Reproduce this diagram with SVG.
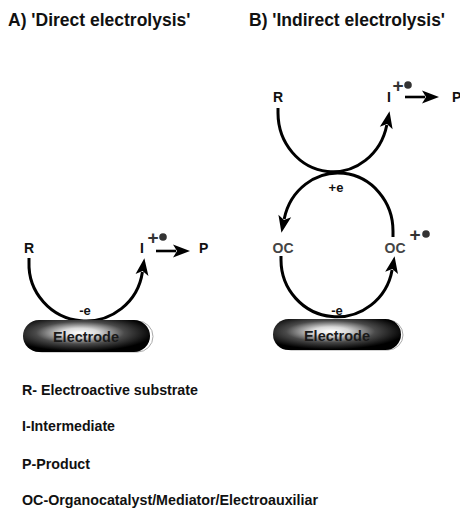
<svg xmlns="http://www.w3.org/2000/svg" width="460" height="509" viewBox="0 0 460 509">
<style>
text{font-family:"Liberation Sans",Arial,sans-serif;font-weight:bold;fill:#111}
.title{font-size:17.5px}
.lbl{font-size:14px}
.oc{font-size:14px;fill:#444}
.e{font-size:13px;text-anchor:middle}
.leg{font-size:15px}
.etx{font-size:14.5px;text-anchor:middle;fill:#1a1a1a}
.plus{font-size:19px;text-anchor:middle;fill:#333}
.arc{fill:none;stroke:#000;stroke-width:3}
.arr{fill:none;stroke:#000;stroke-width:2.6}
</style>
<defs>
<marker id="ah" markerUnits="userSpaceOnUse" markerWidth="24" markerHeight="18" viewBox="-4 -9 24 18" refX="3" refY="0" orient="auto">
<path d="M0,-6.5 L17,0 L0,6.5 L4,0 z" fill="#000"/>
</marker>
<radialGradient id="eg" cx="0.45" cy="0.4" r="0.58">
<stop offset="0" stop-color="#ffffff"/>
<stop offset="0.25" stop-color="#d8d8d8"/>
<stop offset="0.6" stop-color="#4a4a4a"/>
<stop offset="1" stop-color="#000"/>
</radialGradient>
</defs>
<g id="titles">
<text class="title" x="8" y="26">A) 'Direct electrolysis'</text>
<text class="title" x="249" y="26">B) 'Indirect electrolysis'</text>
</g>
<g id="connectors">
<path class="arc" d="M29,258 L29,262 A57,57 0 0 0 142.4,272" marker-end="url(#ah)"/>
<line class="arr" x1="156" y1="251" x2="176" y2="251" marker-end="url(#ah)"/>
<path class="arc" d="M278,108 L278,113 A55,59 0 0 0 386.8,125" marker-end="url(#ah)"/>
<line class="arr" x1="405" y1="97" x2="425" y2="97" marker-end="url(#ah)"/>
<path class="arc" d="M393,237 L393,231 A55,58 0 0 0 284.2,219" marker-end="url(#ah)"/>
<path class="arc" d="M281,256 L281,260 A56,57 0 0 0 392.1,270" marker-end="url(#ah)"/>
</g>
<g id="electrode-a">
<rect x="26" y="321" width="127" height="31" rx="15.5" fill="none" stroke="#aaa" stroke-width="1"/>
<rect x="23" y="320" width="127" height="32" rx="16" fill="url(#eg)"/>
<text class="etx" x="86" y="342">Electrode</text>
</g>
<g id="electrode-b">
<rect x="276" y="320" width="127" height="30" rx="15" fill="none" stroke="#aaa" stroke-width="1"/>
<rect x="273" y="319" width="128" height="31" rx="15.5" fill="url(#eg)"/>
<text class="etx" x="337" y="341">Electrode</text>
</g>
<g id="node-R-a"><text class="lbl" x="29" y="253" text-anchor="middle">R</text></g>
<g id="node-I-a">
<text class="lbl" x="142" y="253" text-anchor="middle" fill="#333">I</text>
<text class="plus" x="153" y="244">+</text>
<circle cx="163" cy="237" r="3.8" fill="#333"/>
</g>
<g id="node-P-a"><text class="lbl" x="199" y="253">P</text></g>
<g id="label-e-a"><text class="e" x="85" y="315">-e</text></g>
<g id="node-R-b"><text class="lbl" x="278" y="102" text-anchor="middle">R</text></g>
<g id="node-I-b">
<text class="lbl" x="389" y="102" text-anchor="middle">I</text>
<text class="plus" x="398" y="92">+</text>
<circle cx="408" cy="85" r="3.8" fill="#333"/>
</g>
<g id="node-P-b"><text class="lbl" x="452" y="102">P</text></g>
<g id="label-pe-b"><text class="e" x="336" y="192">+e</text></g>
<g id="node-OC-left"><text class="oc" x="283" y="253" text-anchor="middle">OC</text></g>
<g id="node-OC-right">
<text class="oc" x="395" y="253" text-anchor="middle">OC</text>
<text class="plus" x="415" y="241">+</text>
<circle cx="426" cy="234" r="3.8" fill="#333"/>
</g>
<g id="label-me-b"><text class="e" x="337" y="315">-e</text></g>
<g id="legend">
<text class="leg" x="22" y="395" textLength="176" lengthAdjust="spacingAndGlyphs">R- Electroactive substrate</text>
<text class="leg" x="22" y="431" textLength="93" lengthAdjust="spacingAndGlyphs">I-Intermediate</text>
<text class="leg" x="22" y="469" textLength="68" lengthAdjust="spacingAndGlyphs">P-Product</text>
<text class="leg" x="22" y="505" textLength="296" lengthAdjust="spacingAndGlyphs">OC-Organocatalyst/Mediator/Electroauxiliar</text>
</g>
</svg>
